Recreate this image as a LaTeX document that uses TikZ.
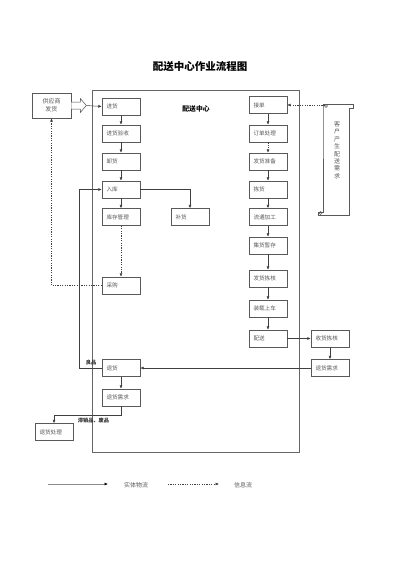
\documentclass[tikz,border=0pt]{standalone}
\usepackage{fontspec}
\setmainfont{Noto Sans CJK SC}
\usetikzlibrary{calc, arrows.meta}

\begin{document}
\begin{tikzpicture}[x=1pt, y=-1pt,
    >={Latex[length=3.4pt,width=3pt]},
    box/.style={draw=black!65, fill=white, text=black!65, line width=0.6pt,
      minimum width=38pt, minimum height=17pt, text width=29pt, inner xsep=4.5pt,
      align=left, font=\fontsize{5.6}{6.5}\selectfont},
    flow/.style={->, draw=black!75, line width=0.5pt},
    info/.style={->, draw=black!75, line width=0.5pt, dash pattern=on 1.2pt off 1.2pt},
    lbl/.style={font=\fontsize{5.2}{6}\selectfont\bfseries, text=black!80, inner sep=0.5pt}
  ]
    \useasboundingbox (0,0) rectangle (400,565);
    \node[font=\fontsize{10.5}{12}\selectfont\bfseries] (title) at (200,67) {配送中心作业流程图};
    % the centre frame
    \draw[black!60, line width=0.6pt] (92,90) rectangle (299,452);
    \node[font=\fontsize{6.8}{8}\selectfont\bfseries] (centre) at (196,109) {配送中心};

    % left column
    \node[box, minimum width=39pt, minimum height=25pt, text width=30pt, align=center,
      font=\fontsize{6}{8}\selectfont] (gys) at (51.5,105.5) {供应商\\发货};
    \node[box] (jinhuo)  at (121,106.5) {进货};
    \node[box] (yanshou) at (121,133.5) {进货验收};
    \node[box] (xiehuo)  at (121,161.5) {卸货};
    \node[box] (ruku)    at (121,189.5) {入库};
    \node[box] (kucun)   at (121,217)   {库存管理};
    \node[box] (buhuo)   at (190,217)   {补货};
    \node[box] (caigou)  at (121,285.5) {采购};
    \node[box] (tuihuo)  at (121,368)   {退货};
    \node[box] (tuixq)   at (121,397.5) {退货需求};
    \node[box] (tuicl)   at (54,432)    {退货处理};

    % right column
    \node[box] (jiedan)    at (268,105)   {接单};
    \node[box] (dingdan)   at (268,133.5) {订单处理};
    \node[box] (zhunbei)   at (268,161.5) {发货准备};
    \node[box] (jianhuo)   at (268,189.5) {拣货};
    \node[box] (liutong)   at (268,217)   {流通加工};
    \node[box] (jihuo)     at (268,245.5) {集货暂存};
    \node[box] (jianhe)    at (268,278.5) {发货拣核};
    \node[box] (zhuangzai) at (268,308.5) {装载上车};
    \node[box] (peisong)   at (268,338.5) {配送};
    \node[box] (shouhuo)   at (330,338.5) {收货拣核};
    \node[box] (tuixqr)    at (330,368)   {退货需求};

    % the customer scroll
    \coordinate (kehu) at (325,105);
    \draw[black!65, line width=0.6pt, fill=white]
      (323,107) -- (323,212) -- (318,212) -- (318,215) -- (349,215) -- (349,108)
      -- (353,108) -- (353,104) -- (323,104) -- cycle;
    \draw[black!65, line width=0.5pt] (326,106) circle (1.5) (320.5,213) circle (1.5);
    \node[font=\fontsize{6}{7.4}\selectfont, text=black!65, text width=7pt, align=center]
      (xuqiu) at (337,150) {客\\户\\产\\生\\配\\送\\需\\求};

    % hollow arrow from the supplier
    \draw[black!70, line width=0.5pt, fill=white]
      ($(gys.east)+(0,-3.5)$) -- ++(9,0) -- ++(0,-3.5) -- ($(gys.east)+(15,0)$)
      -- ++(-6,7) -- ++(0,-3.5) -- ($(gys.east)+(0,3.5)$);
    \draw[flow] ($(gys.east)+(15,0)$) -- (jinhuo.west);

    % physical flow
    \draw[flow] (jinhuo) -- (yanshou);
    \draw[flow] (yanshou) -- (xiehuo);
    \draw[flow] (xiehuo) -- (ruku);
    \draw[flow] (ruku) -- (kucun);
    \draw[flow] (ruku.east) -| (buhuo.north);
    \draw[flow] (tuihuo.west) -- (79,368) |- (ruku.west);
    \node[lbl] (liangpin) at (91,363) {良品};
    \draw[flow] (tuihuo) -- (tuixq);
    \draw[flow] (tuixq.south) -- ++(0,9) -| (tuicl.north);
    \node[lbl] (zhixiao) at (93.5,420.5) {滞销品、废品};
    \draw[flow] (jiedan) -- (dingdan);
    \draw[flow] (zhunbei) -- (jianhuo);
    \draw[flow] (jianhuo) -- (liutong);
    \draw[flow] (liutong) -- (jihuo);
    \draw[flow] (jihuo) -- (jianhe);
    \draw[flow] (jianhe) -- (zhuangzai);
    \draw[flow] (zhuangzai) -- (peisong);
    \draw[flow] (peisong) -- (shouhuo);
    \draw[flow] (shouhuo) -- (tuixqr);
    \draw[flow] (tuixqr.west) -- (tuihuo.east);

    % information flow
    \draw[info] (dingdan) -- (zhunbei);
    \draw[info] (kucun) -- (caigou);
    \draw[info] (caigou.west) -| (gys.south);
    \draw[info] (kehu) -- (jiedan.east);

    % legend
    \coordinate (s1) at (48,484);  \coordinate (s2) at (108,484);
    \coordinate (d1) at (168,484); \coordinate (d2) at (219,484);
    \draw[-{Latex[length=3.4pt,width=3pt,fill=black,color=black]}, draw=black!45, line width=1pt] (s1) -- (s2);
    \draw[info] (d1) -- (d2);
    \node[font=\fontsize{6}{7}\selectfont, text=black!65] (shiti) at (136,485) {实体物流};
    \node[font=\fontsize{6}{7}\selectfont, text=black!65] (xinxi) at (243,485.5) {信息流};
\end{tikzpicture}
\end{document}
